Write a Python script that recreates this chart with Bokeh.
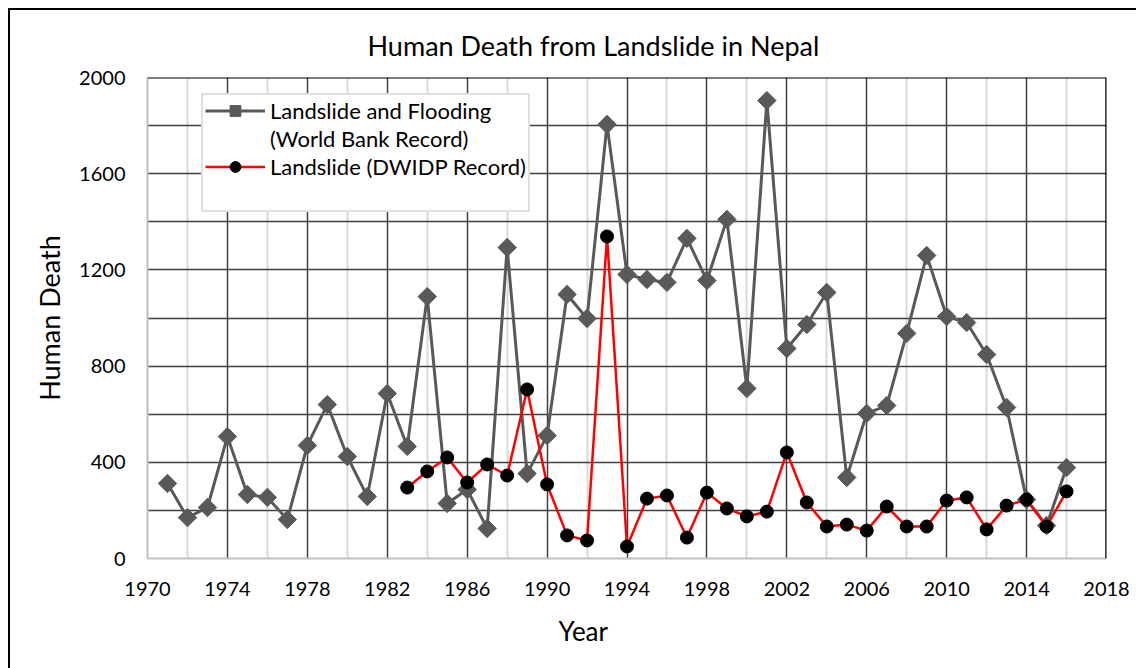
from bokeh.plotting import figure
from bokeh.models import Range1d, FixedTicker, Legend, LegendItem, Span, Title
from bokeh.embed import file_html
from bokeh.resources import INLINE
import numpy as np

# Human deaths per year, World Bank record (landslide and flooding)
years_wb = list(range(1971, 2017))
deaths_wb = [312, 170, 212, 507, 266, 254, 162, 470, 640, 424,
             258, 686, 466, 1089, 229, 287, 125, 1293, 353, 511,
             1098, 998, 1805, 1181, 1160, 1148, 1331, 1156, 1410, 707,
             1904, 873, 973, 1106, 337, 603, 636, 936, 1260, 1006,
             981, 848, 628, 245, 137, 378]

# Human deaths per year, DWIDP record (landslide only)
years_dw = list(range(1983, 2017))
deaths_dw = [295, 362, 420, 316, 391, 345, 703, 308, 96, 75,
             1339, 50, 249, 262, 87, 274, 208, 175, 195, 441,
             233, 133, 141, 116, 216, 133, 133, 241, 254, 121,
             220, 245, 133, 279]

# axis ticks
x_ticks = [1970, 1974, 1978, 1982, 1986, 1990, 1994, 1998, 2002, 2006, 2010, 2014, 2018]
x_minor = [1972, 1976, 1980, 1984, 1988, 1992, 1996, 2000, 2004, 2008, 2012, 2016]
y_ticks = [0, 400, 800, 1200, 1600, 2000]
y_minor = [200, 600, 1000, 1400, 1800]

FONT = "Lato"

p = figure(width=1128, height=660, output_backend="svg", toolbar_location=None,
           x_range=Range1d(1970, 2018), y_range=Range1d(0, 2000),
           min_border_left=137, min_border_top=67,
           min_border_right=32, min_border_bottom=112,
           background_fill_color="white", border_fill_color="white")
p.margin = (8, 0, 0, 8)
p.styles = {"border-left": "2px solid black", "border-top": "2px solid black"}
p.outline_line_color = None

# title
p.title.text = "Human Death from Landslide in Nepal"
p.title.align = "left"
p.title.offset = 220
p.title.standoff = 32
p.title.text_font = FONT
p.title.text_font_size = "27px"
p.title.text_font_style = "normal"
p.title.text_color = "black"

# axes
p.xaxis.ticker = FixedTicker(ticks=x_ticks, minor_ticks=x_minor)
p.yaxis.ticker = FixedTicker(ticks=y_ticks, minor_ticks=y_minor)
for ax in (p.xaxis[0], p.yaxis[0]):
    ax.major_tick_line_color = None
    ax.minor_tick_line_color = None
    ax.major_tick_out = 0
    ax.major_tick_in = 0
    ax.minor_tick_out = 0
    ax.minor_tick_in = 0
    ax.axis_line_color = "#bfbfbf"
    ax.axis_line_width = 2
    ax.major_label_text_font = FONT
    ax.major_label_text_font_size = "20px"
    ax.major_label_text_color = "black"
p.xaxis.major_label_standoff = 23
p.yaxis.major_label_standoff = 22

p.yaxis.axis_label = "Human Death"
p.yaxis.axis_label_text_font = FONT
p.yaxis.axis_label_text_font_size = "27px"
p.yaxis.axis_label_text_font_style = "normal"
p.yaxis.axis_label_text_color = "black"
p.yaxis.axis_label_standoff = 10

p.add_layout(Title(text="Year", align="left", offset=411, standoff=28,
                   text_font=FONT, text_font_size="26px",
                   text_font_style="normal", text_color="black"), "below")

# grid
p.xgrid.grid_line_color = "#404040"
p.xgrid.grid_line_width = 1.5
p.xgrid.minor_grid_line_color = "#d9d9d9"
p.xgrid.minor_grid_line_width = 2
p.ygrid.grid_line_color = "#404040"
p.ygrid.grid_line_width = 1.5
p.ygrid.minor_grid_line_color = "#404040"
p.ygrid.minor_grid_line_width = 1.5

# dark top and right edges of the plot area
p.add_layout(Span(location=2000, dimension="width", line_color="black", line_width=2))
p.add_layout(Span(location=2018, dimension="height", line_color="black", line_width=2.5))

# series
wb_line = p.line(years_wb, deaths_wb, line_color="#595959", line_width=3)
wb_pts = p.scatter(years_wb, deaths_wb, marker="square", angle=np.pi / 4, size=13,
                   fill_color="#595959", line_color="#595959")
dw_line = p.line(years_dw, deaths_dw, line_color="#ff0000", line_width=2.5)
dw_pts = p.scatter(years_dw, deaths_dw, marker="circle", size=13,
                   fill_color="black", line_color="black")

blank = p.line(x=[], y=[], line_alpha=0)

legend = Legend(items=[
    LegendItem(label="Landslide and Flooding", renderers=[wb_line, wb_pts]),
    LegendItem(label="(World Bank Record)", renderers=[blank]),
    LegendItem(label="Landslide (DWIDP Record)", renderers=[dw_line, dw_pts]),
    LegendItem(label=" ", renderers=[blank]),
], location=(54, 346))
legend.margin = 0
legend.padding = 2
legend.spacing = 1
legend.label_height = 27
legend.glyph_height = 27
legend.glyph_width = 60
legend.label_standoff = 5
legend.label_text_font = FONT
legend.label_text_font_size = "22px"
legend.label_text_color = "black"
legend.border_line_color = "#bfbfbf"
legend.border_line_width = 2
legend.background_fill_color = "white"
legend.background_fill_alpha = 1
p.add_layout(legend)

open("out.html", "w").write(file_html(p, INLINE))
